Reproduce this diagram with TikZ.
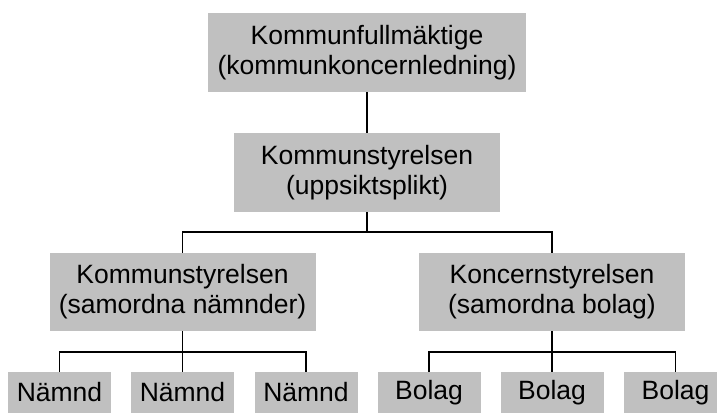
\documentclass[tikz,border=0pt]{standalone}
\usepackage{fontspec}
\setmainfont{Liberation Sans}
\definecolor{boxgray}{HTML}{C0C0C0}
\begin{document}
\begin{tikzpicture}[x=1pt,y=-1pt,
  box/.style={fill=boxgray,draw=none,inner sep=0pt,align=center,
    font=\fontsize{26.5}{30}\selectfont},
  big/.style={box,minimum width=#1,minimum height=79pt},
  small/.style={box,minimum width=103pt,minimum height=41pt},
  conn/.style={draw=black,line width=1.4pt}]
\useasboundingbox (0,0) rectangle (717,415);
\clip (0,0) rectangle (717,415);
\node[big=318pt] (top) at (367,52.5) {Kommunfullmäktige\\(kommunkoncernledning)};
\node[big=266pt] (ks) at (367,172.5) {Kommunstyrelsen\\(uppsiktsplikt)};
\node[big=266pt,minimum height=78pt] (ksn) at (182.5,292) {Kommunstyrelsen\\(samordna nämnder)};
\node[big=266pt,minimum height=78pt] (kon) at (552,292) {Koncernstyrelsen\\(samordna bolag)};
\node[small] (n1) at (59.5,392.5) {Nämnd};
\node[small] (n2) at (182.5,392.5) {Nämnd};
\node[small] (n3) at (306,392.5) {Nämnd};
\node[small] (b1) at (429,392.5) {Bolag};
\node[small] (b2) at (552,392.5) {Bolag};
\node[small] (b3) at (675.5,392.5) {Bolag};
\coordinate (j1) at (367,232);
\coordinate (j2) at (182.5,352);
\coordinate (j3) at (552,352);
\draw[conn] (top.south) -- (ks.north);
\draw[conn] (ks.south) -- (j1);
\draw[conn] (j1) -| (ksn.north);
\draw[conn] (j1) -| (kon.north);
\draw[conn] (ksn.south) -- (j2);
\draw[conn] (j2) -| (n1.north);
\draw[conn] (j2) -- (n2.north);
\draw[conn] (j2) -| (n3.north);
\draw[conn] (kon.south) -- (j3);
\draw[conn] (j3) -| (b1.north);
\draw[conn] (j3) -- (b2.north);
\draw[conn] (j3) -| (b3.north);
\end{tikzpicture}
\end{document}
